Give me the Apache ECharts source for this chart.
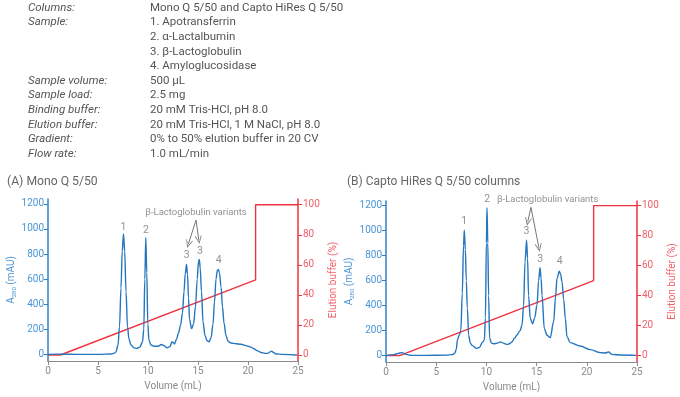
<!DOCTYPE html>
<html><head><meta charset="utf-8">
<script src="https://cdn.jsdelivr.net/npm/echarts@6/dist/echarts.min.js"></script>
<style>html,body{margin:0;padding:0;background:#fff}#c{width:680px;height:397px}</style>
</head><body><div id="c"></div><script>
// ---- Header text ----
const headerLabels = ['Columns:', 'Sample:', '', '', '', 'Sample volume:', 'Sample load:', 'Binding buffer:', 'Elution buffer:', 'Gradient:', 'Flow rate:'];
const headerValues = ['Mono Q 5/50 and Capto HiRes Q 5/50', '1. Apotransferrin', '2. \u03b1-Lactalbumin', '3. \u03b2-Lactoglobulin', '4. Amyloglucosidase', '500 \u00b5L', '2.5 mg', '20 mM Tris-HCl, pH 8.0', '20 mM Tris-HCl, 1 M NaCl, pH 8.0', '0% to 50% elution buffer in 20 CV', '1.0 mL/min'];

// ---- Chart A: Mono Q 5/50 ----
const volA = [0, 1, 3, 5, 6.3, 6.6, 6.8, 7.0, 7.15, 7.3, 7.42, 7.55, 7.67, 7.8, 7.95, 8.1, 8.3, 8.6, 8.9, 9.2, 9.45, 9.58, 9.68, 9.78, 9.88, 9.98, 10.1, 10.3, 10.6, 11.0, 11.35, 11.6, 11.9, 12.2, 12.4, 12.5, 12.65, 12.85, 13.05, 13.25, 13.45, 13.6, 13.72, 13.85, 13.95, 14.05, 14.15, 14.35, 14.55, 14.75, 14.92, 15.05, 15.13, 15.22, 15.35, 15.5, 15.7, 15.9, 16.1, 16.3, 16.5, 16.65, 16.8, 16.93, 17.03, 17.15, 17.3, 17.45, 17.6, 17.8, 18.0, 18.3, 18.8, 19.3, 19.8, 20.2, 20.6, 20.9, 21.3, 21.7, 22.0, 22.2, 22.35, 22.55, 22.8, 23.5, 24.9];
const absA = [0, 2, 0, 0, 3, 8, 20, 75, 220, 530, 820, 960, 820, 500, 220, 120, 75, 52, 48, 60, 100, 200, 600, 930, 650, 240, 110, 75, 65, 65, 78, 70, 52, 62, 100, 95, 82, 120, 170, 230, 330, 500, 640, 718, 640, 450, 280, 205, 240, 380, 600, 740, 757, 690, 500, 260, 150, 110, 100, 130, 240, 420, 600, 670, 678, 650, 540, 380, 250, 150, 105, 90, 85, 80, 70, 60, 45, 30, 15, 8, 8, 20, 26, 15, 3, 0, -5];
const gradVolA = [0, 1.23, 20.76, 20.76, 25];
const gradPctA = [0, 0, 50, 100, 100];
const peakTextA = ['1', '2', '3', '3', '4', '\u03b2-Lactoglobulin variants'];
const peakTextXA = [7.55, 9.8, 13.87, 15.2, 17.07, 14.8];
const peakTextYA = [1010, 990, 786, 824, 750, 1129];
const arrowFromA = [[14.8, 1071], [14.8, 1071]];
const arrowToA = [[14.04, 880], [15.08, 913]];

// ---- Chart B: Capto HiRes Q 5/50 ----
const volB = [0, 0.8, 1.2, 1.6, 2.0, 2.5, 4, 6, 6.6, 6.85, 7.0, 7.12, 7.3, 7.45, 7.6, 7.72, 7.8, 7.9, 8.0, 8.1, 8.23, 8.4, 8.6, 9.0, 9.3, 9.6, 9.8, 9.9, 10.0, 10.06, 10.14, 10.22, 10.32, 10.5, 10.72, 11.1, 11.4, 11.7, 12.05, 12.3, 12.55, 12.8, 13.05, 13.35, 13.55, 13.7, 13.85, 14.0, 14.1, 14.2, 14.37, 14.6, 14.8, 15.04, 15.2, 15.34, 15.45, 15.54, 15.77, 16.04, 16.36, 16.69, 16.9, 17.03, 17.26, 17.4, 17.53, 17.7, 17.86, 18.03, 18.36, 19.35, 20.35, 21.34, 21.84, 22.17, 22.5, 23.4, 24.9];
const absB = [0, 8, 18, 24, 10, 2, 2, 4, 8, 20, 50, 130, 165, 200, 500, 880, 1005, 850, 600, 380, 163, 100, 80, 58, 65, 105, 125, 300, 900, 1184, 900, 480, 140, 100, 95, 100, 110, 100, 90, 95, 110, 140, 165, 200, 245, 400, 750, 925, 780, 480, 297, 255, 300, 403, 600, 703, 620, 483, 216, 163, 144, 269, 480, 617, 676, 650, 590, 450, 297, 150, 104, 77, 48, 24, 21, 29, 10, 5, 2];
const gradVolB = [0, 1.35, 20.68, 20.68, 25];
const gradPctB = [0, 0, 50, 100, 100];
const peakTextB = ['1', '2', '3', '3', '4', '\u03b2-Lactoglobulin variants'];
const peakTextXB = [7.8, 10.09, 14.0, 15.37, 17.29, 16.1];
const peakTextYB = [1071, 1251, 997, 770, 756, 1251];
const arrowFromB = [[14.44, 1187], [14.44, 1187]];
const arrowToB = [[14.12, 1072], [15.23, 864]];

const xTicks = [0, 5, 10, 15, 20, 25];
const absTicks = [0, 200, 400, 600, 800, 1000, 1200];
const pctTicks = [0, 20, 40, 60, 80, 100];

const zip = (a, b) => a.map((v, i) => [v, b[i]]);
const FONT = 'Roboto, "Open Sans", sans-serif';
const BLUE = '#2f80c6', BLUE_T = '#4a95d6', RED = '#ee3340', RED_T = '#f2606a', GREY = '#8a8a8a', TXT = '#555';
const chevron = 'path://M5,0 L10,10 L8.8,10 L5,2.6 L1.2,10 L0,10 Z';

const graphics = [];
headerLabels.forEach((t, i) => {
  const y = 8 + i * 14.6;
  if (t) graphics.push({type: 'text', x: 28, y: y, style: {text: t, font: 'italic 11.5px ' + FONT, fill: TXT, textVerticalAlign: 'middle'}});
  graphics.push({type: 'text', x: 150, y: y, style: {text: headerValues[i], font: '11.5px ' + FONT, fill: TXT, textVerticalAlign: 'middle'}});
});
graphics.push({type: 'text', x: 7, y: 182, style: {text: '(A) Mono Q 5/50', font: '12.2px ' + FONT, fill: '#666', textVerticalAlign: 'middle'}});
graphics.push({type: 'text', x: 347, y: 182, style: {text: '(B) Capto HiRes Q 5/50 columns', font: '12px ' + FONT, fill: '#666', textVerticalAlign: 'middle'}});

const plain = v => String(v);

function xAxis(gi) {
  return {type: 'value', gridIndex: gi, min: 0, max: 25, interval: 5,
    name: 'Volume (mL)', nameLocation: 'middle', nameGap: 20,
    nameTextStyle: {color: GREY, fontSize: 10, fontFamily: FONT},
    axisLine: {onZero: false, lineStyle: {color: GREY, width: 1}},
    axisTick: {show: true, length: 4, lineStyle: {color: GREY}, customValues: xTicks},
    axisLabel: {color: GREY, fontSize: 10, fontFamily: FONT, margin: 5, customValues: xTicks, formatter: plain},
    splitLine: {show: false}};
}
function yLeft(gi, min, max) {
  return {type: 'value', gridIndex: gi, position: 'left', min: min, max: max,
    name: '{a|A}{s|280}{a| (mAU)}', nameLocation: 'middle', nameRotate: 90, nameGap: 25,
    nameTextStyle: {color: BLUE_T, fontFamily: FONT, rich: {a: {fontSize: 10, color: BLUE_T, fontFamily: FONT}, s: {fontSize: 6, color: BLUE_T, fontFamily: FONT, padding: [6, 0, 0, 0]}}},
    axisLine: {show: true, onZero: false, lineStyle: {color: BLUE, width: 1.5}},
    axisTick: {show: true, length: 4, lineStyle: {color: BLUE}, customValues: absTicks},
    axisLabel: {color: BLUE_T, fontSize: 10, fontFamily: FONT, margin: 4, customValues: absTicks, formatter: plain},
    splitLine: {show: false}};
}
function yRight(gi, min, max) {
  return {type: 'value', gridIndex: gi, position: 'right', min: min, max: max,
    name: 'Elution buffer (%)', nameLocation: 'middle', nameRotate: 90, nameGap: 30,
    nameTextStyle: {color: RED_T, fontSize: 10, fontFamily: FONT},
    axisLine: {show: true, onZero: false, lineStyle: {color: RED, width: 1.5}},
    axisTick: {show: true, length: 4, lineStyle: {color: RED}, customValues: pctTicks},
    axisLabel: {color: RED_T, fontSize: 10, fontFamily: FONT, margin: 5, customValues: pctTicks, formatter: plain},
    splitLine: {show: false}};
}
function absSeries(xi, yi, vol, abs, from, to) {
  return {type: 'line', xAxisIndex: xi, yAxisIndex: yi, data: zip(vol, abs), showSymbol: false,
    smooth: 0.35, smoothMonotone: 'x', lineStyle: {color: '#2476bf', width: 1.4}, z: 3,
    markLine: {silent: true, symbol: ['none', chevron], symbolSize: [7, 8], animation: false,
      lineStyle: {color: '#777', width: 1, type: 'solid'}, label: {show: false},
      data: from.map((f, i) => [{coord: f}, {coord: to[i]}])}};
}
function gradSeries(xi, yi, gv, gp) {
  return {type: 'line', xAxisIndex: xi, yAxisIndex: yi, data: zip(gv, gp), showSymbol: false,
    lineStyle: {color: RED, width: 1.4}, z: 2};
}
function textSeries(xi, yi, tx, ty, tt) {
  return {type: 'scatter', xAxisIndex: xi, yAxisIndex: yi, clip: false, symbolSize: 0,
    data: tx.map((x, i) => ({value: [x, ty[i], tt[i]], label: {fontSize: tt[i].length > 2 ? 9.5 : 10.5}})),
    label: {show: true, position: 'inside', formatter: p => p.value[2], color: '#777', fontFamily: FONT}, z: 5};
}

const option = {
  animation: false,
  backgroundColor: '#fff',
  graphic: graphics,
  grid: [
    {left: 48, right: 382, top: 199, bottom: 36},
    {left: 386, right: 43, top: 201, bottom: 35}
  ],
  xAxis: [xAxis(0), xAxis(1)],
  yAxis: [yLeft(0, -53, 1239), yRight(0, -4, 103.8), yLeft(1, -51, 1238), yRight(1, -4.3, 103.1)],
  series: [
    gradSeries(0, 1, gradVolA, gradPctA),
    absSeries(0, 0, volA, absA, arrowFromA, arrowToA),
    textSeries(0, 0, peakTextXA, peakTextYA, peakTextA),
    gradSeries(1, 3, gradVolB, gradPctB),
    absSeries(1, 2, volB, absB, arrowFromB, arrowToB),
    textSeries(1, 2, peakTextXB, peakTextYB, peakTextB)
  ]
};
echarts.init(document.getElementById('c')).setOption(option);
</script></body></html>
